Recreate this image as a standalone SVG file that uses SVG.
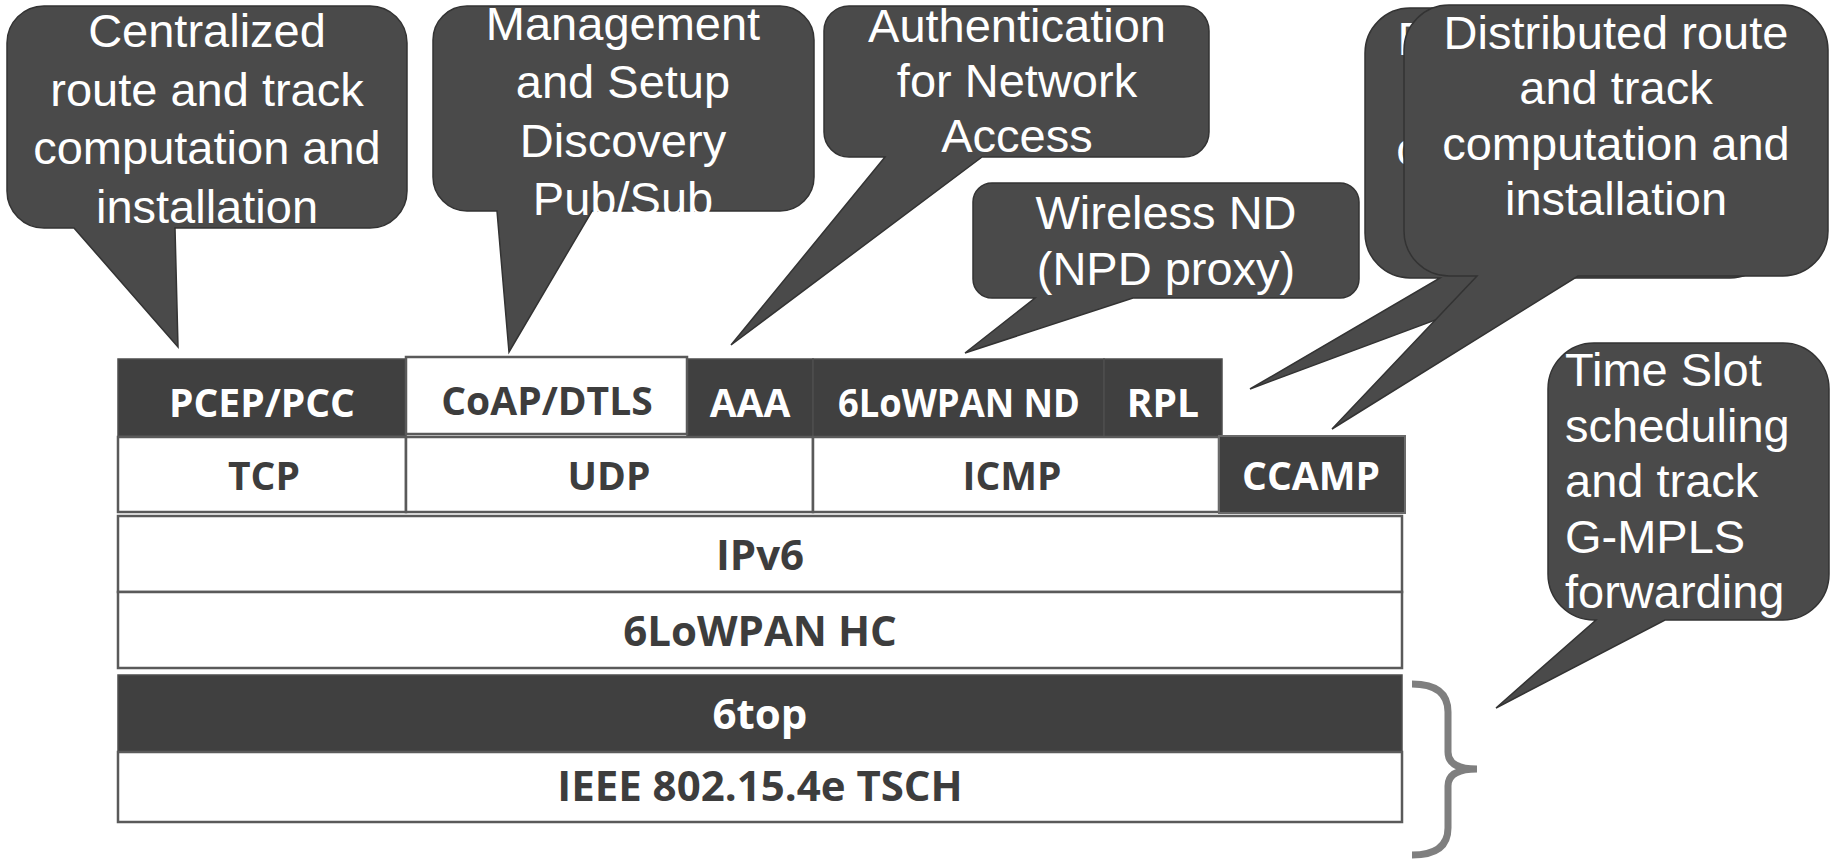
<svg xmlns="http://www.w3.org/2000/svg" width="1835" height="865" viewBox="0 0 1835 865">
<style>
.co{fill:#4a4a4a;stroke:#333;stroke-width:1.5;stroke-linejoin:miter}
.ct{font-family:"Liberation Sans",Arial,sans-serif;font-size:47px;fill:#fff;text-anchor:middle}
.cl{font-family:"Liberation Sans",Arial,sans-serif;font-size:47px;fill:#fff}
.bw{fill:#fff;stroke:#5a5a5a;stroke-width:2.5}
.bd{fill:#404040;stroke:#4e4e4e;stroke-width:1.5}
.bdc{fill:#404040;stroke:#6a6a6a;stroke-width:2}
.sl{font-family:"Open Sans",sans-serif;font-weight:700;font-size:39px;text-anchor:middle}
.sb{font-family:"Open Sans",sans-serif;font-weight:700;font-size:42px;text-anchor:middle}
.w{fill:#fff}
.d{fill:#3d3d3d}
</style>
<rect width="1835" height="865" fill="#fff"/>
<g id="stack">
<g id="pcep"><rect class="bd" x="118" y="359" width="288" height="77"/><text class="sl w" x="262" y="417">PCEP/PCC</text></g>
<g id="aaa"><rect class="bd" x="687" y="359" width="126" height="78"/><text class="sl w" x="750" y="417">AAA</text></g>
<g id="lowpan-nd"><rect class="bd" x="813" y="359" width="291" height="78"/><text class="sl w" x="959" y="417" textLength="242" lengthAdjust="spacingAndGlyphs">6LoWPAN ND</text></g>
<g id="rpl"><rect class="bd" x="1104" y="359" width="118" height="78"/><text class="sl w" x="1163" y="417">RPL</text></g>
<g id="coap"><rect class="bw" x="406" y="357" width="281" height="77"/><text class="sl d" x="547" y="415">CoAP/DTLS</text></g>
<g id="tcp"><rect class="bw" x="118" y="437" width="288" height="75"/><text class="sl d" x="264" y="490">TCP</text></g>
<g id="udp"><rect class="bw" x="406" y="437" width="407" height="75"/><text class="sl d" x="609" y="490">UDP</text></g>
<g id="icmp"><rect class="bw" x="813" y="437" width="406" height="75"/><text class="sl d" x="1012" y="490">ICMP</text></g>
<g id="ccamp"><rect class="bdc" x="1219" y="436" width="186" height="77"/><text class="sl w" x="1311" y="490">CCAMP</text></g>
<g id="ipv6"><rect class="bw" x="118" y="516" width="1284" height="76"/><text class="sb d" x="760" y="570">IPv6</text></g>
<g id="lowpan-hc"><rect class="bw" x="118" y="592" width="1284" height="76"/><text class="sb d" x="760" y="646">6LoWPAN HC</text></g>
<g id="sixtop"><rect class="bd" x="118" y="675" width="1284" height="77"/><text class="sb w" x="760" y="729">6top</text></g>
<g id="tsch"><rect class="bw" x="118" y="752" width="1284" height="70"/><text class="sb d" x="760" y="801">IEEE 802.15.4e TSCH</text></g>
</g>
<g id="brace"><path d="M1412,684 Q1448,684 1448,712 V752 Q1448,769 1477,769 Q1448,769 1448,786 V828 Q1448,855 1412,855" fill="none" stroke="#7f7f7f" stroke-width="7"/></g>
<g id="callout-centralized">
<path class="co" d="M44,6 H370 A37,37 0 0 1 407,43 V191 A37,37 0 0 1 370,228 H175 L178,347 L74,228 H44 A37,37 0 0 1 7,191 V43 A37,37 0 0 1 44,6 Z"/>
<text class="ct"><tspan x="207" y="47">Centralized</tspan><tspan x="207" y="106">route and track</tspan><tspan x="207" y="164">computation and</tspan><tspan x="207" y="223">installation</tspan></text>
</g>
<g id="callout-management">
<path class="co" d="M467,6 H780 A34,34 0 0 1 814,40 V177 A34,34 0 0 1 780,211 H592 L509,352 L497,211 H467 A34,34 0 0 1 433,177 V40 A34,34 0 0 1 467,6 Z"/>
<text class="ct"><tspan x="623" y="40">Management</tspan><tspan x="623" y="98">and Setup</tspan><tspan x="623" y="157">Discovery</tspan><tspan x="623" y="215">Pub/Sub</tspan></text>
</g>
<g id="callout-auth">
<path class="co" d="M849,6 H1184 A25,25 0 0 1 1209,31 V132 A25,25 0 0 1 1184,157 H982 L731,345 L885,157 H849 A25,25 0 0 1 824,132 V31 A25,25 0 0 1 849,6 Z"/>
<text class="ct"><tspan x="1017" y="42">Authentication</tspan><tspan x="1017" y="97">for Network</tspan><tspan x="1017" y="152">Access</tspan></text>
</g>
<g id="callout-wireless">
<path class="co" d="M992,183 H1340 A19,19 0 0 1 1359,202 V279 A19,19 0 0 1 1340,298 H1133 L965,353 L1035,298 H992 A19,19 0 0 1 973,279 V202 A19,19 0 0 1 992,183 Z"/>
<text class="ct"><tspan x="1166" y="229">Wireless ND</tspan><tspan x="1166" y="285">(NPD proxy)</tspan></text>
</g>
<g id="callout-distributed-back">
<path class="co" d="M1410,8 H1730 A45,45 0 0 1 1775,53 V233 A45,45 0 0 1 1730,278 H1548 L1250,389 L1440,278 H1410 A45,45 0 0 1 1365,233 V53 A45,45 0 0 1 1410,8 Z"/>
<text class="ct"><tspan x="1570" y="55">Distributed route</tspan><tspan x="1570" y="110">and track</tspan><tspan x="1570" y="165">computation and</tspan><tspan x="1570" y="220">installation</tspan></text>
</g>
<g id="callout-distributed">
<path class="co" d="M1449,5 H1783 A45,45 0 0 1 1828,50 V231 A45,45 0 0 1 1783,276 H1578 L1332,429 L1477,276 H1449 A45,45 0 0 1 1404,231 V50 A45,45 0 0 1 1449,5 Z"/>
<text class="ct"><tspan x="1616" y="49">Distributed route</tspan><tspan x="1616" y="104">and track</tspan><tspan x="1616" y="160">computation and</tspan><tspan x="1616" y="215">installation</tspan></text>
</g>
<g id="callout-timeslot">
<path class="co" d="M1594,343 H1783 A46,46 0 0 1 1829,389 V574 A46,46 0 0 1 1783,620 H1665 L1496,708 L1596,620 H1594 A46,46 0 0 1 1548,574 V389 A46,46 0 0 1 1594,343 Z"/>
<text class="cl"><tspan x="1565" y="386">Time Slot</tspan><tspan x="1565" y="442">scheduling</tspan><tspan x="1565" y="497">and track</tspan><tspan x="1565" y="553">G-MPLS</tspan><tspan x="1565" y="608">forwarding</tspan></text>
</g>
</svg>
